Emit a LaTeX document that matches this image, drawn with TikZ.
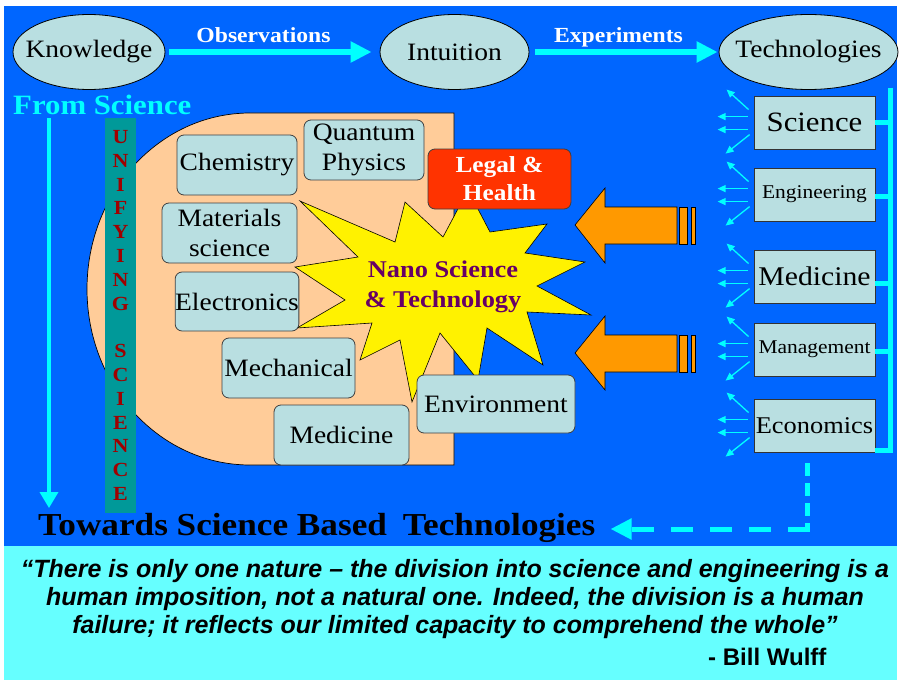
\documentclass[tikz,border=0pt]{standalone}
\usepackage{fontspec}
\setmainfont{Liberation Serif}[FakeStretch=1.1]
\newfontfamily\qfont{Liberation Sans}
\usetikzlibrary{shapes.geometric,arrows.meta,calc}
\definecolor{bgblue}{HTML}{0066FF}
\definecolor{qcyan}{HTML}{66FFFF}
\definecolor{acyan}{HTML}{00FFFF}
\definecolor{boxfill}{HTML}{B9DFE1}
\definecolor{peach}{HTML}{FFCC99}
\definecolor{legalred}{HTML}{FF3300}
\definecolor{orng}{HTML}{FF9900}
\definecolor{tealbar}{HTML}{009999}
\definecolor{dred}{HTML}{A00000}
\definecolor{purp}{HTML}{660066}
\newcommand{\dn}[1]{\raisebox{-2.5pt}{#1}}
\begin{document}
\begin{tikzpicture}[x=1pt,y=-1pt,
  ell/.style={ellipse, draw=black, line width=0.8pt, fill=boxfill, inner sep=0pt, font=\fontsize{25}{30}\selectfont},
  rbox/.style={draw=black!75, line width=0.8pt, fill=boxfill, rounded corners=7pt, inner sep=0pt, align=center, font=\fontsize{25}{30}\selectfont},
  sbox/.style={draw=black!80, line width=0.8pt, fill=boxfill, inner sep=0pt, minimum width=121pt, minimum height=53pt},
  bigarr/.style={acyan, line width=6pt, -{Triangle[length=21pt,width=20pt]}},
  sarr/.style={acyan, line width=1.3pt, -{Triangle[length=8pt,width=7pt]}},
  brk/.style={acyan, line width=5pt},
  orarr/.style={fill=orng, draw=black, line width=0.6pt},
  toplab/.style={white, font=\bfseries\fontsize{21.5}{26}\selectfont, anchor=base},
  uletter/.style={dred, font=\bfseries\fontsize{20}{24}\selectfont}
]
\useasboundingbox (0,0) rectangle (899,682);
\fill[white] (0,0) rectangle (899,682);
\fill[bgblue] (4,6) rectangle (897,546);
\fill[qcyan] (4,546) rectangle (897,680);

% top ellipses
\node[ell, minimum width=152pt, minimum height=75pt] (know) at (89,52) {\makebox[0pt]{\dn{Knowledge}}};
\node[ell, minimum width=149pt, minimum height=75pt] (intu) at (454.5,52) {\makebox[0pt]{Intuition}};
\node[ell, minimum width=179pt, minimum height=75pt] (tech) at (808.5,52) {\makebox[0pt]{\dn{Technologies}}};
\draw[bigarr, shorten <=4pt, shorten >=8pt] (know.east) -- (intu.west);
\draw[bigarr, shorten <=6pt, shorten >=1pt] (intu.east) -- (tech.west);
\node[toplab] (obs) at (263.5,43) {Observations};
\node[toplab] (exp) at (618.5,43) {Experiments};

% From Science
\node[acyan, font=\bfseries\fontsize{28}{34}\selectfont, anchor=base west, inner sep=0pt] (from) at (13,114) {From Science};
\coordinate (vtop) at (49,118);
\coordinate (vbot) at (49,508);
\draw[acyan, line width=3.5pt, -{Triangle[length=16pt,width=18pt]}] (vtop) -- (vbot);

% peach area
\draw[fill=peach, line width=0.7pt] (454,113) -- (250,113) arc[start angle=270, end angle=90, x radius=163, y radius=176] -- (454,465) -- cycle;

% star
\draw[fill=yellow, line width=0.6pt] (300,201) -- (395,242) -- (405,202) -- (443,237) -- (468,190) -- (490,232) -- (547,224) -- (525,253) -- (585,262) -- (537,286) -- (591,315) -- (527,312) -- (543,365) -- (487,328) -- (478,380) -- (440,333) -- (412,402) -- (400,340) -- (360,360) -- (372,323) -- (297,328) -- (345,300) -- (295,267) -- (358,257) -- cycle;

% left boxes
\node[rbox, minimum width=120pt, minimum height=60pt] (chem) at (237,165) {\dn{Chemistry}};
\node[rbox, minimum width=120pt, minimum height=60pt] (quant) at (364,150) {\dn{Quantum}\\\dn{Physics}};
\node[rbox, minimum width=135pt, minimum height=60pt] (mat) at (229.5,233) {Materials\\science};
\node[rbox, minimum width=120pt, minimum height=59pt] (elec) at (237,301.5) {Electronics};
\node[rbox, minimum width=133pt, minimum height=60pt] (mech) at (288.5,368) {Mechanical};
\node[rbox, minimum width=135pt, minimum height=60pt] (medl) at (341.5,435) {Medicine};
\node[rbox, minimum width=158pt, minimum height=58pt] (env) at (496,404) {Environment};
\node[rbox, fill=legalred, text=white, font=\bfseries\fontsize{23}{30}\selectfont, minimum width=143pt, minimum height=60pt] (legal) at (499.5,179) {\raisebox{-3pt}{\shortstack{Legal \&\\[4pt]Health}}};
\node[purp, align=center, font=\bfseries\fontsize{24}{30}\selectfont] (nano) at (443,287) {Nano Science\\\& Technology};

% unifying science bar
\fill[tealbar] (105,118) rectangle (136,513);
\foreach \L [count=\i from 0] in {U,N,I,F,Y,I,N,G} {
  \node[uletter] (u\i) at (120.5,{137+\i*23.8}) {\L};
}
\foreach \L [count=\i from 9] in {S,C,I,E,N,C,E} {
  \node[uletter] (s\i) at (120.5,{137+\i*23.8}) {\L};
}

% orange arrows
\draw[orarr] (575,225) -- (605,188) -- (605,207) -- (677,207) -- (677,244) -- (605,244) -- (605,263) -- cycle;
\draw[orarr] (679,207) rectangle (687,244);
\draw[orarr] (691,207) rectangle (695,244);
\draw[orarr] (575,353) -- (605,316) -- (605,335) -- (677,335) -- (677,372) -- (605,372) -- (605,390) -- cycle;
\draw[orarr] (679,335) rectangle (687,372);
\draw[orarr] (691,335) rectangle (695,372);

% right boxes
\node[sbox, font=\fontsize{28}{34}\selectfont] (sci) at (814.5,122.5) {Science};
\node[sbox, font=\fontsize{19.5}{24}\selectfont] (eng) at (814.5,194.5) {\dn{Engineering}};
\node[sbox, font=\fontsize{27}{32}\selectfont] (med) at (814.5,276.5) {Medicine};
\node[sbox, font=\fontsize{19.5}{24}\selectfont] (mgmt) at (814.5,349.5) {\dn{Management}};
\node[sbox, font=\fontsize{24}{29}\selectfont] (econ) at (814.5,425.5) {Economics};

\foreach \b in {sci,eng,med,mgmt,econ} {
  \draw[sarr] ([xshift=-5pt,yshift=-14pt]\b.north west) -- ++(-22,-20);
  \draw[sarr] ([xshift=-6pt,yshift=-21pt]\b.north west) -- ++(-30,0);
  \draw[sarr] ([xshift=-6pt,yshift=-34pt]\b.north west) -- ++(-30,0);
  \draw[sarr] ([xshift=-4pt,yshift=-39pt]\b.north west) -- ++(-24,19);
}

% bracket
\coordinate (brtop) at (890,88);
\coordinate (brbot) at (890,450);
\draw[brk] (brtop) -- (brbot) -- (brbot -| econ.east);
\draw[brk] (sci.east) -- (sci.east -| brtop);
\draw[brk] ([yshift=-2pt]eng.east) -- ([yshift=-2pt]eng.east -| brtop);
\draw[brk] ([yshift=-7pt]med.east) -- ([yshift=-7pt]med.east -| brtop);
\draw[brk] ([yshift=-2pt]mgmt.east) -- ([yshift=-2pt]mgmt.east -| brtop);

% towards
\node[anchor=base west, inner sep=0pt, font=\bfseries\fontsize{32}{38}\selectfont] (tow) at (38,535) {Towards Science Based\hspace{0.5em}Technologies};
\coordinate (dtop) at (807,463);
\coordinate (dcorner) at (807,531.5);
\coordinate (dcorner2) at (807,529);
\coordinate (dend) at ($(tow.east)+(15,0)$);
\draw[acyan, line width=5pt, dash pattern=on 12.5pt off 7.5pt] (dtop) -- (dcorner);
\draw[acyan, line width=5pt, dash pattern=on 22pt off 17pt, -{Triangle[length=21pt,width=20pt]}] ([xshift=2.5pt]dcorner2) -- (dcorner2 -| dend);

% quote
\node[align=center, font=\qfont\bfseries\itshape\fontsize{25}{28}\selectfont, inner sep=0pt] (quote) at (455,599) {“There is only one nature – the division into science and engineering is a\\human imposition, not a natural one. Indeed, the division is a human\\failure; it reflects our limited capacity to comprehend the whole”};
\node[anchor=base west, inner sep=0pt, font=\qfont\bfseries\fontsize{24}{28}\selectfont] (wulff) at (708,665) {- Bill Wulff};
\end{tikzpicture}
\end{document}
